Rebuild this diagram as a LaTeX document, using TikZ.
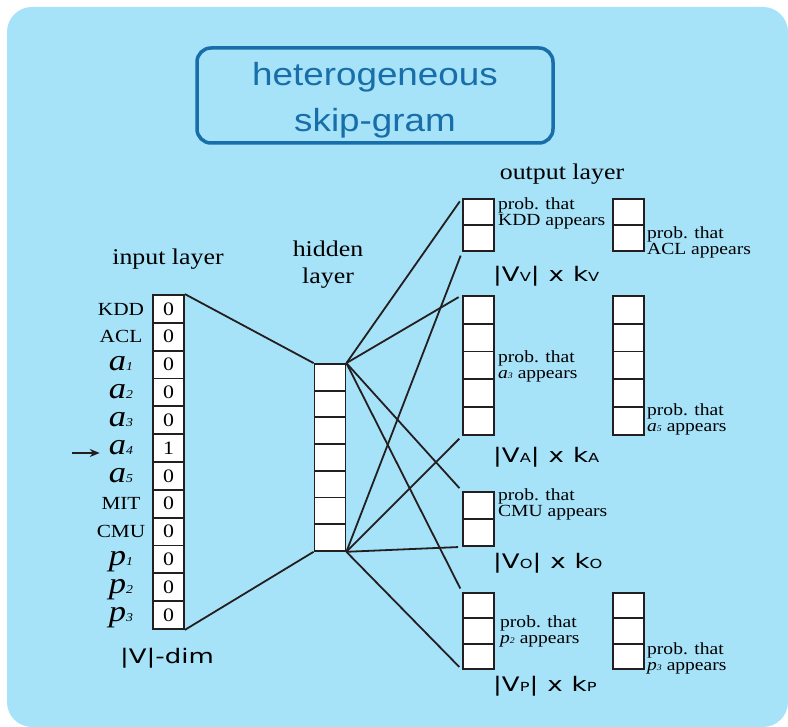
\documentclass[tikz,border=0pt]{standalone}
\usepackage{fontspec}
\setmainfont{Liberation Serif}[FakeStretch=1.15]
\newfontfamily\titlefont{Liberation Sans}[FakeStretch=1.15]
\newfontfamily\dimfont{DejaVu Sans}[FakeStretch=1.3]
\usetikzlibrary{arrows.meta,positioning}
\definecolor{bgblue}{RGB}{166,226,248}
\definecolor{titleblue}{RGB}{24,110,168}
\definecolor{ink}{RGB}{35,31,32}
\newcommand{\fs}[1]{\fontsize{#1}{#1}\selectfont}
\newcommand{\ent}[2]{{\fs{30}\itshape #1}{\fs{12}\itshape #2}}
\newcommand{\ment}[2]{{\itshape #1}{\fs{8.5}\itshape #2}}
\newcommand{\dims}[1]{|V{\fs{12.5}#1}|\hspace{9pt}x\hspace{9pt}k{\fs{12.5}#1}}
% name, x, top, cells, cell height
\newcommand{\vcolumn}[5]{%
  \foreach \i in {1,...,#4}
    \node[cellbox, minimum height=#5pt] (#1\i) at (#2, {#3+(\i-0.5)*#5}) {};}

\begin{document}
\begin{tikzpicture}[x=1pt,y=-1pt,
  cellbox/.style={draw=ink, line width=1.8pt, fill=white, minimum width=31pt, inner sep=0pt, font=\fs{19}},
  wire/.style={draw=ink, line width=1.8pt},
  layername/.style={font=\fontsize{22.5}{27}\selectfont, align=center, inner sep=0pt},
  probtext/.style={font=\fontsize{17}{15.5}\selectfont, align=left, inner sep=0pt, anchor=north west},
  dimtext/.style={font=\dimfont\fs{20}, inner sep=0pt, anchor=base west}]

\path[use as bounding box] (0,0) rectangle (788,727);
\fill[bgblue, rounded corners=25pt] (7,7) rectangle (788,727);

\node[draw=titleblue, line width=3.5pt, rounded corners=14pt, minimum width=356pt, minimum height=95pt,
  inner sep=0pt] (titlebox) at (375,95.5) {};
\node[text=titleblue, font=\titlefont\fontsize{32}{46}\selectfont, align=center, inner sep=0pt]
  (title) at ([yshift=-5pt]titlebox.center) {heterogeneous\\skip-gram};

% input layer
\coordinate (labx) at (121,0);
\foreach \v [count=\i] in {0,0,0,0,0,1,0,0,0,0,0,0}
  \node[cellbox, minimum height=27.83pt] (in\i) at (168.5, {295+(\i-0.5)*27.83}) {\v};
\foreach \lab [count=\i] in {KDD, ACL, \ent{a}{1}, \ent{a}{2}, \ent{a}{3}, \ent{a}{4}, \ent{a}{5},
    MIT, CMU, \ent{p}{1}, \ent{p}{2}, \ent{p}{3}}
  \node[anchor=base, inner sep=0pt, font=\fs{18.5}] (lab\i) at (in\i.base -| labx) {\lab};
\coordinate (pointer) at (72,453);
\draw[wire, -{Stealth[length=10pt,width=8pt]}, shorten >=9pt] (pointer) -- (pointer -| lab6.west);

\node[layername, anchor=base] (inname) at (168,265) {input layer};
\node[dimtext, anchor=base] (dimin) at (167,663) {|V|-dim};

% hidden layer
\vcolumn{hid}{330}{364}{7}{26.7}
\node[layername] (hidname) at (328,265) {hidden\\layer};
\draw[wire] (in1.north east) -- (hid1.north west);
\draw[wire] (in12.south east) -- (hid7.south west);

% output layer
\node[layername, anchor=base] (outname) at (562,180) {output layer};
\vcolumn{outV}{478.5}{199}{2}{26}
\vcolumn{outVr}{628.5}{199}{2}{26}
\vcolumn{outA}{478.5}{296}{5}{27.8}
\vcolumn{outAr}{628.5}{296}{5}{27.8}
\vcolumn{outO}{478.5}{492}{2}{27}
\vcolumn{outP}{478.5}{593}{3}{25.3}
\vcolumn{outPr}{628.5}{593}{3}{25.3}

\foreach \c in {outV1, outA1, outO1, outP1}
  \draw[wire, shorten >=4pt] (hid1.north east) -- (\c.north west);
\foreach \c in {outV2, outA5, outO2, outP3}
  \draw[wire, shorten >=4pt] (hid7.south east) -- (\c.south west);

\node[probtext] (pKDD) at (498,198) {prob. that\\KDD appears};
\node[probtext] (pACL) at (647,227) {prob. that\\ACL appears};
\node[probtext] (pa3) at (498,351) {prob. that\\\ment{a}{3} appears};
\node[probtext] (pa5) at (647,404) {prob. that\\\ment{a}{5} appears};
\node[probtext] (pCMU) at (498,489) {prob. that\\CMU appears};
\node[probtext] (pp2) at (500,616) {prob. that\\\ment{p}{2} appears};
\node[probtext] (pp3) at (647,643) {prob. that\\\ment{p}{3} appears};

\node[dimtext] (dimV) at (493,282) {\dims{V}};
\node[dimtext] (dimA) at (493,463) {\dims{A}};
\node[dimtext] (dimO) at (493,568) {\dims{O}};
\node[dimtext] (dimP) at (493,691) {\dims{P}};
\end{tikzpicture}
\end{document}
